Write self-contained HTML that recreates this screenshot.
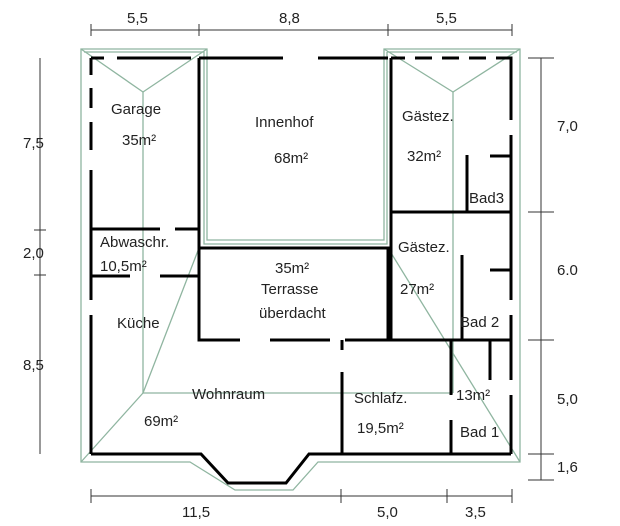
<!DOCTYPE html>
<html><head><meta charset="utf-8"><style>
html,body{margin:0;padding:0;background:#fff;width:620px;height:526px;overflow:hidden}
svg text{font-family:"Liberation Sans",sans-serif;font-size:15px;fill:#222}
</style></head><body>
<svg width="620" height="526" viewBox="0 0 620 526" xmlns="http://www.w3.org/2000/svg">
<g stroke="#8fb5a0" stroke-width="1.3" fill="none">
<path d="M81,49 H207 V240 H384 V49 H520 V462 H318 L293,490 H235 L190,462 H81 Z"/>
<path d="M84,52 H204 V244 H387 V52"/>
<path d="M387,52 H517"/>
<path d="M81,49 L143,92 L207,49"/>
<path d="M384,49 L453,92 L520,49"/>
<line x1="143" y1="92" x2="143" y2="393"/>
<line x1="453" y1="92" x2="453" y2="393"/>
<line x1="143" y1="393" x2="453" y2="393"/>
<line x1="143" y1="393" x2="81" y2="462"/>
<line x1="199" y1="248" x2="143" y2="393"/>
<line x1="388" y1="248" x2="520" y2="462"/>
</g>
<g stroke="#000" stroke-width="3" fill="none">
<path d="M91,58 H104 M117,58 H191"/>
<path d="M199,58 H283 M318,58 H388"/>
<path d="M391,58 V212 M391,212 V340"/>
<path d="M391,58 H405 M415,58 H432 M442,58 H459 M469,58 H486 M496,58 H511 V120 M511,135 V300 M511,315 V380 M511,395 V454"/>
<path d="M91,58 V75 M91,88 V108 M91,122 V150 M91,170 V300 M91,315 V440 M91,440 V454"/>
<path d="M199,58 V248"/>
<path d="M91,229 H160 M175,229 H199"/>
<path d="M91,276 H130 M160,276 H199"/>
<path d="M199,248 H388 V340 M199,248 V340 H240 M270,340 H330 M345,340 H451 M451,340 H511"/>
<path d="M391,212 H511 M467,155 V212 M490,156 H511"/>
<path d="M462,340 V255 M490,270 H511"/>
<path d="M342,340 V350 M342,372 V454"/>
<path d="M451,340 V395 M451,420 V454 M490,340 V380"/>
<path d="M91,454 H201 L228,483 H286 L309,454 H511"/>
</g>
<g stroke="#333" stroke-width="1" fill="none">
<path d="M91,30 H512 M91,24 V36 M199,24 V36 M388,24 V36 M512,24 V36"/>
<path d="M541,58 V480 M528,58 H554 M528,212 H554 M528,340 H554 M528,454 H554 M528,480 H554"/>
<path d="M40,58 V454 M34,230 H46 M34,275 H46"/>
<path d="M91,496 H512 M91,489 V503 M341,489 V503 M447,489 V503 M512,489 V503"/>
</g>
<text x="127" y="23">5,5</text><text x="279" y="23">8,8</text><text x="436" y="23">5,5</text>
<text x="557" y="131">7,0</text><text x="557" y="275">6.0</text><text x="557" y="404">5,0</text><text x="557" y="472">1,6</text>
<text x="23" y="148">7,5</text><text x="23" y="258">2,0</text><text x="23" y="370">8,5</text>
<text x="182" y="517">11,5</text><text x="377" y="517">5,0</text><text x="465" y="517">3,5</text>
<text x="111" y="114">Garage</text><text x="122" y="145">35m²</text>
<text x="255" y="127">Innenhof</text><text x="274" y="163">68m²</text>
<text x="402" y="121">Gästez.</text><text x="407" y="161">32m²</text><text x="469" y="203">Bad3</text>
<text x="100" y="247">Abwaschr.</text><text x="100" y="271">10,5m²</text>
<text x="275" y="273">35m²</text><text x="261" y="294">Terrasse</text><text x="259" y="318">überdacht</text>
<text x="398" y="252">Gästez.</text><text x="400" y="294">27m²</text><text x="460" y="327">Bad 2</text>
<text x="117" y="328">Küche</text>
<text x="192" y="399">Wohnraum</text><text x="144" y="426">69m²</text>
<text x="354" y="403">Schlafz.</text><text x="357" y="433">19,5m²</text>
<text x="456" y="400">13m²</text><text x="460" y="437">Bad 1</text>
</svg>
</body></html>
